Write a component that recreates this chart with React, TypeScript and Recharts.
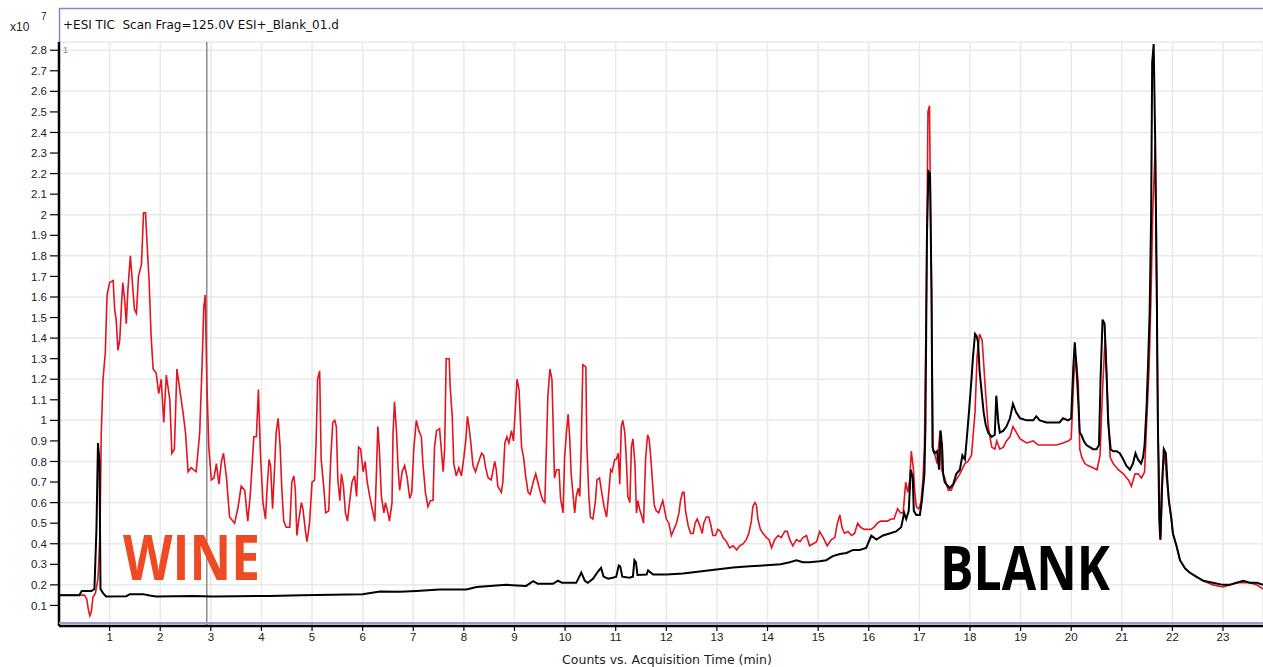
import React from 'react';
import { LineChart, Line, XAxis, YAxis, CartesianGrid, ReferenceLine } from 'recharts';

// TIC traces, counts in units of 10^7, time in minutes
const wineTime = [
  0, 0.3, 0.5, 0.55, 0.58, 0.61, 0.64, 0.67, 0.72, 0.77, 0.81, 0.835, 0.87, 0.915, 0.95, 1.0, 1.07, 1.1, 1.13, 1.165,
  1.2, 1.23, 1.26, 1.3, 1.33, 1.36, 1.41, 1.45, 1.49, 1.53, 1.57, 1.63, 1.67, 1.71, 1.74, 1.78, 1.82, 1.86, 1.92, 1.97,
  2.02, 2.07, 2.12, 2.19, 2.23, 2.28, 2.33, 2.38, 2.45, 2.5, 2.55, 2.61, 2.71, 2.78, 2.83, 2.86, 2.89, 2.92, 2.96, 3.01,
  3.06, 3.11, 3.16, 3.21, 3.25, 3.31, 3.37, 3.47, 3.54, 3.6, 3.67, 3.73, 3.78, 3.85, 3.9, 3.94, 3.98, 4.03, 4.08, 4.11,
  4.15, 4.18, 4.22, 4.26, 4.29, 4.33, 4.37, 4.4, 4.44, 4.49, 4.56, 4.6, 4.64, 4.67, 4.7, 4.74, 4.79, 4.82, 4.87, 4.9,
  4.95, 5.0, 5.05, 5.08, 5.11, 5.15, 5.18, 5.23, 5.27, 5.33, 5.37, 5.41, 5.45, 5.48, 5.51, 5.55, 5.58, 5.62, 5.66, 5.7,
  5.74, 5.79, 5.84, 5.88, 5.92, 5.96, 6.01, 6.05, 6.09, 6.14, 6.18, 6.24, 6.27, 6.3, 6.33, 6.37, 6.42, 6.45, 6.5, 6.53,
  6.58, 6.6, 6.63, 6.67, 6.7, 6.73, 6.78, 6.83, 6.88, 6.93, 6.97, 7.01, 7.06, 7.11, 7.16, 7.19, 7.24, 7.29, 7.34, 7.39,
  7.42, 7.46, 7.52, 7.55, 7.59, 7.62, 7.65, 7.71, 7.73, 7.77, 7.8, 7.85, 7.9, 7.95, 8.0, 8.04, 8.07, 8.1, 8.13, 8.18,
  8.23, 8.28, 8.35, 8.39, 8.43, 8.48, 8.54, 8.57, 8.61, 8.64, 8.67, 8.74, 8.77, 8.81, 8.85, 8.89, 8.94, 8.98, 9.02, 9.05,
  9.09, 9.12, 9.14, 9.18, 9.22, 9.27, 9.31, 9.37, 9.42, 9.46, 9.51, 9.56, 9.6, 9.63, 9.66, 9.7, 9.74, 9.76, 9.79, 9.83,
  9.88, 9.91, 9.96, 9.99, 10.03, 10.06, 10.09, 10.12, 10.16, 10.19, 10.22, 10.26, 10.29, 10.32, 10.35, 10.41, 10.43, 10.47, 10.5, 10.55,
  10.6, 10.63, 10.68, 10.73, 10.77, 10.82, 10.86, 10.9, 10.93, 10.98, 11.01, 11.05, 11.08, 11.11, 11.14, 11.18, 11.21, 11.24, 11.28, 11.31,
  11.34, 11.38, 11.41, 11.44, 11.47, 11.52, 11.55, 11.59, 11.63, 11.66, 11.69, 11.73, 11.76, 11.8, 11.85, 11.89, 11.93, 11.97, 12.0, 12.05,
  12.1, 12.15, 12.2, 12.25, 12.28, 12.32, 12.35, 12.38, 12.43, 12.48, 12.53, 12.57, 12.61, 12.66, 12.71, 12.74, 12.79, 12.84, 12.88, 12.92,
  12.97, 13.02, 13.07, 13.12, 13.19, 13.25, 13.32, 13.39, 13.45, 13.52, 13.58, 13.63, 13.68, 13.71, 13.75, 13.78, 13.81, 13.86, 13.91, 13.98,
  14.03, 14.08, 14.14, 14.21, 14.27, 14.34, 14.39, 14.44, 14.5, 14.57, 14.64, 14.7, 14.77, 14.83, 14.9, 14.97, 15.03, 15.1, 15.18, 15.26,
  15.33, 15.38, 15.43, 15.47, 15.52, 15.59, 15.66, 15.72, 15.78, 15.84, 15.91, 15.97, 16.04, 16.1, 16.17, 16.24, 16.3, 16.37, 16.44, 16.5,
  16.57, 16.63, 16.68, 16.73, 16.77, 16.81, 16.84, 16.88, 16.91, 16.94, 16.99, 17.03, 17.07, 17.1, 17.14, 17.17, 17.2, 17.22, 17.24, 17.27,
  17.3, 17.35, 17.41, 17.44, 17.5, 17.57, 17.63, 17.7, 17.8, 17.9, 17.96, 18.03, 18.1, 18.14, 18.19, 18.24, 18.27, 18.31, 18.36, 18.43,
  18.49, 18.53, 18.59, 18.66, 18.72, 18.79, 18.85, 18.92, 18.99, 19.12, 19.25, 19.35, 19.45, 19.58, 19.71, 19.84, 19.94, 20.0, 20.05, 20.09,
  20.14, 20.17, 20.21, 20.27, 20.33, 20.43, 20.51, 20.57, 20.62, 20.67, 20.72, 20.77, 20.83, 20.93, 21.03, 21.13, 21.19, 21.26, 21.32, 21.39,
  21.45, 21.49, 21.54, 21.58, 21.61, 21.64, 21.66, 21.68, 21.72, 21.77, 21.81, 21.85, 21.88, 21.93, 21.98, 22.01, 22.08, 22.15, 22.25, 22.34,
  22.47, 22.61, 22.8, 23.0, 23.13, 23.27, 23.4, 23.53, 23.67, 23.79,
];
const wineCounts = [
  0.15, 0.15, 0.15, 0.13, 0.08, 0.05, 0.07, 0.14, 0.16, 0.23, 0.45, 0.94, 1.2, 1.33, 1.61, 1.67, 1.68, 1.54, 1.49, 1.34,
  1.39, 1.54, 1.67, 1.58, 1.47, 1.63, 1.8, 1.67, 1.54, 1.52, 1.7, 1.76, 2.01, 2.01, 1.86, 1.68, 1.41, 1.25, 1.23, 1.13,
  1.2, 0.99, 1.22, 1.1, 0.84, 0.86, 1.25, 1.16, 1.04, 0.94, 0.75, 0.77, 0.75, 0.94, 1.29, 1.55, 1.61, 1.2, 0.87, 0.71,
  0.72, 0.79, 0.69, 0.8, 0.84, 0.72, 0.53, 0.5, 0.58, 0.68, 0.66, 0.51, 0.64, 0.92, 0.92, 1.15, 0.84, 0.6, 0.52, 0.66,
  0.81, 0.78, 0.57, 0.77, 0.94, 1.01, 0.87, 0.68, 0.51, 0.48, 0.48, 0.7, 0.73, 0.66, 0.44, 0.52, 0.6, 0.57, 0.46, 0.41,
  0.5, 0.7, 0.71, 0.89, 1.2, 1.24, 0.81, 0.68, 0.55, 0.56, 0.82, 0.99, 1.0, 0.97, 0.71, 0.61, 0.74, 0.68, 0.55, 0.51,
  0.6, 0.7, 0.73, 0.63, 0.87, 0.86, 0.75, 0.8, 0.7, 0.63, 0.58, 0.51, 0.73, 0.97, 0.86, 0.63, 0.55, 0.6, 0.55, 0.51,
  0.6, 0.94, 1.09, 0.94, 0.77, 0.66, 0.75, 0.78, 0.72, 0.62, 0.65, 0.86, 1.0, 0.95, 0.92, 0.79, 0.65, 0.58, 0.61, 0.61,
  0.87, 0.95, 0.96, 0.87, 0.75, 0.86, 1.3, 1.3, 1.16, 1.02, 0.79, 0.73, 0.77, 0.73, 0.82, 0.91, 1.02, 0.97, 0.91, 0.78,
  0.75, 0.79, 0.84, 0.83, 0.77, 0.72, 0.71, 0.75, 0.8, 0.76, 0.68, 0.65, 0.7, 0.89, 0.92, 0.89, 0.95, 0.9, 1.07, 1.2,
  1.15, 0.98, 0.87, 0.82, 0.73, 0.65, 0.64, 0.7, 0.74, 0.7, 0.65, 0.61, 0.6, 0.86, 1.12, 1.25, 1.2, 1.02, 0.72, 0.76,
  0.76, 0.62, 0.55, 0.82, 0.95, 1.03, 0.92, 0.74, 0.63, 0.55, 0.63, 0.67, 0.63, 0.88, 1.27, 1.26, 0.88, 0.63, 0.53, 0.52,
  0.61, 0.71, 0.72, 0.64, 0.58, 0.53, 0.64, 0.76, 0.75, 0.81, 0.81, 0.84, 0.69, 0.97, 1.0, 0.94, 0.81, 0.63, 0.6, 0.87,
  0.91, 0.79, 0.55, 0.61, 0.57, 0.53, 0.5, 0.81, 0.93, 0.91, 0.83, 0.69, 0.59, 0.56, 0.55, 0.58, 0.61, 0.56, 0.52, 0.5,
  0.44, 0.47, 0.5, 0.55, 0.61, 0.65, 0.65, 0.56, 0.49, 0.45, 0.45, 0.5, 0.52, 0.49, 0.45, 0.5, 0.53, 0.53, 0.49, 0.44,
  0.44, 0.47, 0.46, 0.43, 0.41, 0.38, 0.39, 0.37, 0.39, 0.4, 0.42, 0.45, 0.51, 0.58, 0.6, 0.59, 0.52, 0.47, 0.45, 0.43,
  0.42, 0.38, 0.42, 0.44, 0.43, 0.46, 0.46, 0.42, 0.39, 0.42, 0.41, 0.43, 0.44, 0.39, 0.4, 0.41, 0.46, 0.43, 0.39, 0.42,
  0.43, 0.5, 0.54, 0.48, 0.45, 0.46, 0.44, 0.45, 0.5, 0.48, 0.47, 0.47, 0.47, 0.48, 0.5, 0.51, 0.51, 0.51, 0.52, 0.52,
  0.57, 0.55, 0.55, 0.7, 0.65, 0.71, 0.85, 0.77, 0.65, 0.58, 0.57, 0.6, 0.71, 0.87, 1.65, 2.5, 2.53, 2.06, 1.63, 0.85,
  0.84, 0.79, 0.95, 0.76, 0.72, 0.66, 0.66, 0.7, 0.74, 0.79, 0.8, 0.83, 1.04, 1.31, 1.42, 1.39, 1.28, 1.13, 0.97, 0.87,
  0.86, 0.9, 0.86, 0.87, 0.9, 0.92, 0.97, 0.94, 0.91, 0.89, 0.9, 0.88, 0.88, 0.88, 0.88, 0.89, 0.9, 0.91, 1.2, 1.31,
  1.18, 0.86, 0.82, 0.79, 0.78, 0.77, 0.76, 0.83, 1.15, 1.4, 1.1, 0.82, 0.79, 0.76, 0.74, 0.71, 0.68, 0.74, 0.74, 0.72,
  0.75, 0.98, 1.26, 1.63, 2.0, 2.2, 2.34, 1.8, 0.9, 0.42, 0.76, 0.84, 0.73, 0.61, 0.52, 0.45, 0.39, 0.32, 0.28, 0.26,
  0.24, 0.22, 0.2, 0.19, 0.2, 0.21, 0.21, 0.21, 0.2, 0.18,
];

const blankTime = [
  0, 0.4, 0.45, 0.64, 0.7, 0.74, 0.77, 0.8, 0.82, 0.87, 0.93, 1.33, 1.4, 1.66, 1.79, 1.92, 2.65, 3.04, 3.5, 4.15,
  4.8, 5.4, 6.0, 6.34, 6.73, 7.06, 7.52, 8.05, 8.25, 8.84, 9.23, 9.37, 9.46, 9.76, 9.86, 9.94, 10.22, 10.32, 10.39, 10.45,
  10.55, 10.65, 10.71, 10.76, 10.85, 10.94, 11.01, 11.06, 11.09, 11.13, 11.27, 11.34, 11.37, 11.4, 11.43, 11.61, 11.64, 11.74, 12.0, 12.33,
  12.66, 12.99, 13.32, 13.65, 13.98, 14.26, 14.44, 14.57, 14.7, 14.83, 15.03, 15.16, 15.29, 15.43, 15.56, 15.69, 15.82, 15.95, 16.05, 16.15,
  16.28, 16.41, 16.54, 16.64, 16.7, 16.74, 16.79, 16.83, 16.87, 16.89, 16.94, 17.01, 17.05, 17.1, 17.12, 17.15, 17.18, 17.21, 17.24, 17.26,
  17.3, 17.35, 17.39, 17.42, 17.45, 17.47, 17.5, 17.53, 17.6, 17.67, 17.73, 17.8, 17.85, 17.9, 17.94, 17.98, 18.03, 18.06, 18.1, 18.13,
  18.16, 18.19, 18.23, 18.27, 18.31, 18.36, 18.43, 18.49, 18.52, 18.56, 18.59, 18.66, 18.72, 18.79, 18.85, 18.91, 18.99, 19.12, 19.25, 19.31,
  19.38, 19.51, 19.64, 19.77, 19.84, 19.94, 20.0, 20.04, 20.07, 20.1, 20.14, 20.17, 20.2, 20.25, 20.3, 20.37, 20.43, 20.5, 20.55, 20.58,
  20.62, 20.66, 20.7, 20.73, 20.78, 20.83, 20.9, 20.96, 21.03, 21.09, 21.16, 21.22, 21.27, 21.32, 21.38, 21.42, 21.45, 21.49, 21.52, 21.55,
  21.58, 21.6, 21.63, 21.66, 21.69, 21.71, 21.74, 21.76, 21.8, 21.83, 21.87, 21.9, 21.93, 21.98, 22.01, 22.08, 22.15, 22.25, 22.34, 22.47,
  22.61, 22.8, 23.0, 23.13, 23.27, 23.4, 23.53, 23.67, 23.79,
];
const blankCounts = [
  0.15, 0.15, 0.17, 0.17, 0.18, 0.47, 0.89, 0.8, 0.18, 0.16, 0.144, 0.145, 0.155, 0.155, 0.148, 0.143, 0.146, 0.143, 0.145, 0.146,
  0.15, 0.152, 0.155, 0.168, 0.166, 0.17, 0.178, 0.178, 0.19, 0.2, 0.195, 0.218, 0.205, 0.205, 0.22, 0.21, 0.21, 0.26, 0.22, 0.21,
  0.23, 0.265, 0.283, 0.24, 0.23, 0.235, 0.24, 0.294, 0.29, 0.24, 0.235, 0.24, 0.32, 0.31, 0.248, 0.25, 0.27, 0.25, 0.25, 0.255,
  0.265, 0.275, 0.285, 0.29, 0.295, 0.3, 0.31, 0.32, 0.31, 0.31, 0.315, 0.32, 0.34, 0.35, 0.355, 0.37, 0.37, 0.38, 0.44, 0.42,
  0.44, 0.45, 0.46, 0.48, 0.55, 0.52, 0.56, 0.76, 0.72, 0.56, 0.54, 0.54, 0.61, 0.74, 0.97, 1.9, 2.21, 2.2, 1.63, 0.87,
  0.84, 0.85, 0.76, 0.95, 0.87, 0.74, 0.7, 0.69, 0.67, 0.69, 0.74, 0.76, 0.83, 0.81, 0.92, 1.04, 1.2, 1.31, 1.42, 1.41,
  1.38, 1.24, 1.14, 1.04, 0.98, 0.94, 0.92, 0.93, 1.12, 0.99, 0.94, 0.95, 0.97, 1.01, 1.08, 1.04, 1.01, 1.0, 1.0, 1.02,
  1.0, 0.99, 0.99, 0.99, 1.01, 1.0, 1.01, 1.25, 1.38, 1.28, 1.09, 0.94, 0.93, 0.9, 0.88, 0.87, 0.86, 0.86, 0.88, 1.2,
  1.49, 1.47, 1.22, 0.99, 0.86, 0.85, 0.85, 0.84, 0.81, 0.78, 0.76, 0.79, 0.84, 0.81, 0.79, 0.82, 0.88, 1.07, 1.28, 1.52,
  2.0, 2.74, 2.83, 2.35, 1.68, 1.04, 0.52, 0.42, 0.71, 0.86, 0.84, 0.71, 0.61, 0.52, 0.45, 0.39, 0.32, 0.28, 0.26, 0.24,
  0.22, 0.21, 0.2, 0.2, 0.21, 0.22, 0.21, 0.21, 0.2,
];

const timeTicks = [1, 2, 3, 4, 5, 6, 7, 8, 9, 10, 11, 12, 13, 14, 15, 16, 17, 18, 19, 20, 21, 22, 23];
const countTicks = [
  0.1, 0.2, 0.3, 0.4, 0.5, 0.6, 0.7, 0.8, 0.9, 1, 1.1, 1.2, 1.3, 1.4,
  1.5, 1.6, 1.7, 1.8, 1.9, 2, 2.1, 2.2, 2.3, 2.4, 2.5, 2.6, 2.7, 2.8,
];

const toPoints = (ts: number[], vs: number[]) => ts.map((t, i) => ({ t, v: vs[i] }));

const font = '"Liberation Sans", Arial, sans-serif';
const wideFont = '"DejaVu Sans", Verdana, sans-serif';

const App: React.FC = () => {
  const wine = toPoints(wineTime, wineCounts);
  const blank = toPoints(blankTime, blankCounts);

  return (
    <div style={{ position: 'relative', width: 1263, height: 667, fontFamily: font, background: '#fff' }}>
      <style>{'body{margin:0}'}</style>
      <LineChart width={1263} height={667} margin={{ top: 42, right: 0, bottom: 0, left: 0 }}>
        <CartesianGrid stroke="#e9e9e9" strokeWidth={1.5} />
        <XAxis
          dataKey="t"
          type="number"
          domain={[0, 23.79]}
          ticks={timeTicks}
          allowDataOverflow
          height={41}
          axisLine={{ stroke: '#000', strokeWidth: 2.5 }}
          tickLine={{ stroke: '#000', strokeWidth: 1.2 }}
          tickSize={5}
          tickMargin={2}
          tick={{ fill: '#222', fontSize: 11.5, fontFamily: font }}
          label={{ value: 'Counts vs. Acquisition Time (min)', position: 'insideBottom', offset: 3, dx: 6, fill: '#222', fontSize: 12.5, fontFamily: wideFont }}
        />
        <YAxis
          type="number"
          domain={[0, 2.84]}
          ticks={countTicks}
          allowDataOverflow
          width={59}
          axisLine={{ stroke: '#000', strokeWidth: 2.5 }}
          tickLine={{ stroke: '#000', strokeWidth: 1.2 }}
          tickSize={9}
          tickMargin={3}
          tickFormatter={(v: number) => String(Number(v.toFixed(1)))}
          tick={{ fill: '#222', fontSize: 11.5, fontFamily: font }}
        />
        <ReferenceLine x={2.92} stroke="#8c8c8c" strokeWidth={1.5} />
        <Line data={wine} dataKey="v" type="linear" stroke="#e3141f" strokeWidth={1.6} dot={false} isAnimationActive={false} />
        <Line data={blank} dataKey="v" type="linear" stroke="#000" strokeWidth={2} dot={false} isAnimationActive={false} />
      </LineChart>
      <svg width={1263} height={667} style={{ position: 'absolute', left: 0, top: 0, pointerEvents: 'none' }}>
        <line x1={59} y1={8.5} x2={1263} y2={8.5} stroke="#8686c6" strokeWidth={1.5} />
        <line x1={59.5} y1={8} x2={59.5} y2={42} stroke="#8686c6" strokeWidth={1.5} />
        <line x1={59} y1={623} x2={1263} y2={623} stroke="#9a9ad6" strokeWidth={2} />
        <text x={63} y={29} fontSize={12} fill="#111" fontFamily={wideFont} style={{ whiteSpace: 'pre' }}>
          {'+ESI TIC  Scan Frag=125.0V ESI+_Blank_01.d'}
        </text>
        <text x={10} y={31} fontSize={12} fill="#222" fontFamily={font}>x10</text>
        <text x={41} y={20} fontSize={10} fill="#222" fontFamily={font}>7</text>
        <text x={63} y={53} fontSize={9} fill="#a07070" fontFamily={font}>1</text>
        <text x={123} y={580} fontSize={62} fontWeight={700} fill="#ee4b25" fontFamily={'"Open Sans", sans-serif'} textLength={137} lengthAdjust="spacingAndGlyphs">
          WINE
        </text>
        <text x={940} y={590} fontSize={60} fontWeight={700} fill="#000" fontFamily={'"Open Sans", sans-serif'} textLength={170} lengthAdjust="spacingAndGlyphs">
          BLANK
        </text>
      </svg>
    </div>
  );
};

export default App;
